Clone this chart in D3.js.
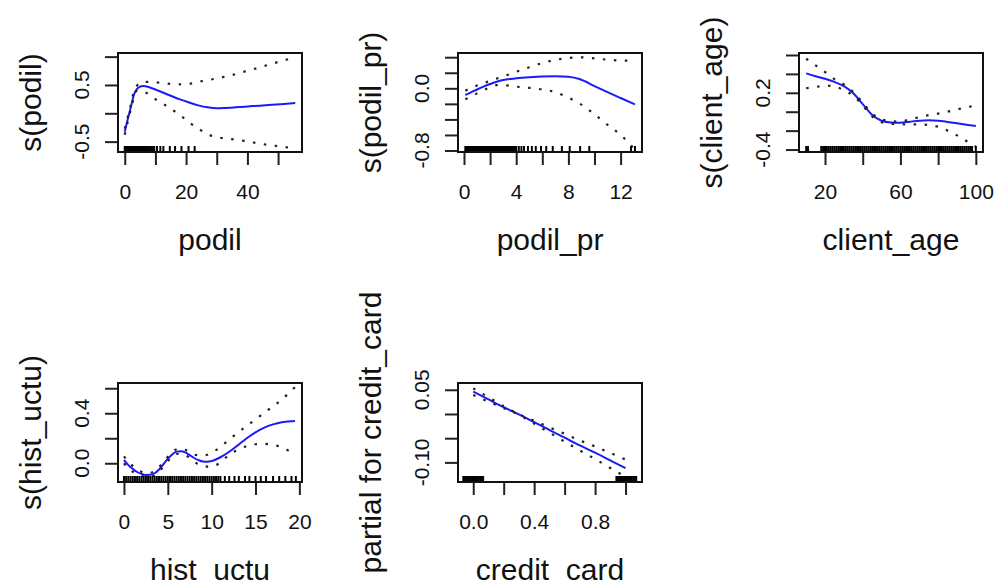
<!DOCTYPE html>
<html>
<head>
<meta charset="utf-8">
<script src="https://cdn.jsdelivr.net/npm/d3@7"></script>
<style>
  body { margin: 0; background: #fff; }
  text { font-family: "Liberation Sans", Arial, Helvetica, sans-serif; fill: #111; }
</style>
</head>
<body>
<div class="chart"></div>
<script>
// ---- podil ----
var podilX     = [0, 1, 2, 3, 4, 5, 6, 8, 10, 12, 15, 18, 21, 24, 27, 30, 33, 36, 40, 44, 48, 52, 55.6];
var podilFit   = [-0.325, -0.10, 0.11, 0.33, 0.43, 0.47, 0.482, 0.46, 0.42, 0.375, 0.31, 0.245, 0.19, 0.14, 0.105, 0.088, 0.095, 0.105, 0.12, 0.135, 0.15, 0.165, 0.182];
var podilUpper = [-0.27, -0.06, 0.15, 0.39, 0.49, 0.54, 0.556, 0.555, 0.547, 0.535, 0.52, 0.512, 0.52, 0.555, 0.585, 0.615, 0.65, 0.69, 0.75, 0.81, 0.875, 0.935, 0.99];
var podilLower = [-0.38, -0.14, 0.07, 0.28, 0.40, 0.40, 0.385, 0.33, 0.25, 0.185, 0.08, -0.03, -0.16, -0.27, -0.37, -0.42, -0.445, -0.465, -0.495, -0.535, -0.565, -0.595, -0.62];
var podilRug   = [0, 0.2, 0.4, 0.6, 0.8, 1, 1.2, 1.4, 1.6, 1.8, 2, 2.2, 2.4, 2.6, 2.8, 3, 3.2, 3.4, 3.6, 3.8, 4, 4.2, 4.4, 4.6, 4.8, 5, 5.2, 5.5, 5.8, 6.1, 6.5, 6.9, 7.3, 7.7, 8.1, 8.6, 9.1, 9.6, 10.5, 11.6, 12.6, 14.7, 16.4, 18.5, 20.8, 22.8];
var podilXTicks = [0, 10, 20, 30, 40, 50];
var podilXLabels = [0, 20, 40];
var podilYTicks = [-0.5, 0, 0.5, 1];
var podilYLabels = [-0.5, 0.5];

// ---- podil_pr ----
var podilPrX     = [0.1, 0.5, 1, 1.5, 2, 2.5, 3, 4, 5, 6, 7, 8, 8.9, 10, 11, 12, 13.1];
var podilPrFit   = [-0.086, -0.055, -0.015, 0.022, 0.055, 0.085, 0.107, 0.128, 0.142, 0.152, 0.155, 0.148, 0.116, 0.028, -0.05, -0.125, -0.206];
var podilPrUpper = [-0.03, 0.0, 0.035, 0.066, 0.097, 0.125, 0.152, 0.213, 0.27, 0.325, 0.365, 0.39, 0.398, 0.385, 0.368, 0.358, 0.355];
var podilPrLower = [-0.14, -0.11, -0.065, -0.022, 0.012, 0.04, 0.04, 0.021, 0.006, -0.015, -0.05, -0.12, -0.2, -0.335, -0.47, -0.6, -0.79];
var podilPrRug   = [0.1, 0.2, 0.3, 0.4, 0.5, 0.6, 0.7, 0.8, 0.9, 1.0, 1.1, 1.2, 1.3, 1.4, 1.5, 1.6, 1.7, 1.8, 1.9, 2.0, 2.1, 2.2, 2.3, 2.4, 2.5, 2.6, 2.7, 2.8, 2.9, 3.0, 3.1, 3.2, 3.3, 3.4, 3.5, 3.6, 3.7, 3.8, 3.9, 4.0, 4.2, 4.4, 4.6, 4.9, 5.2, 5.5, 5.9, 6.3, 6.8, 7.5, 8.1, 8.9, 9.6, 12.8, 13.1];
var podilPrXTicks = [0, 2, 4, 6, 8, 10, 12];
var podilPrXLabels = [0, 4, 8, 12];
var podilPrYTicks = [-0.8, -0.6, -0.4, -0.2, 0, 0.2, 0.4];
var podilPrYLabels = [-0.8, 0];

// ---- client_age ----
var ageX     = [10, 15, 20, 25, 30, 35, 40, 45, 50, 55, 60, 65, 70, 75, 80, 85, 90, 95, 100];
var ageFit   = [0.406, 0.375, 0.348, 0.315, 0.27, 0.195, 0.08, -0.035, -0.095, -0.113, -0.116, -0.105, -0.095, -0.091, -0.095, -0.108, -0.123, -0.137, -0.151];
var ageUpper = [0.56, 0.49, 0.42, 0.345, 0.29, 0.21, 0.095, -0.02, -0.08, -0.1, -0.105, -0.08, -0.058, -0.035, -0.02, 0.0, 0.025, 0.045, 0.07];
var ageLower = [0.248, 0.262, 0.275, 0.27, 0.225, 0.17, 0.065, -0.05, -0.11, -0.128, -0.132, -0.134, -0.134, -0.14, -0.16, -0.2, -0.25, -0.31, -0.37];
var ageRug   = [10, 11, 18, 19, 20, 21, 22, 23, 24, 25, 26, 27, 28, 29, 30, 31, 32, 33, 34, 35, 36, 37, 38, 39, 40, 41, 42, 43, 44, 45, 46, 47, 48, 49, 50, 51, 52, 53, 54, 55, 56, 57, 58, 59, 60, 61, 62, 63, 64, 65, 66, 67, 68, 69, 70, 71, 72, 73, 74, 75, 76, 77, 78, 79, 80, 81, 82, 83, 84, 85, 86, 87, 88, 89, 90, 91, 92, 93, 94, 95, 96, 97, 98, 100];
var ageXTicks = [20, 40, 60, 80, 100];
var ageXLabels = [20, 60, 100];
var ageYTicks = [-0.4, -0.2, 0, 0.2, 0.4, 0.6];
var ageYLabels = [-0.4, 0.2];

// ---- hist_uctu ----
var histX     = [0, 0.5, 1, 1.5, 2, 2.5, 3, 3.5, 4, 4.5, 5, 5.5, 6, 6.5, 7, 7.5, 8, 8.5, 9, 9.5, 10, 11, 12, 13, 14, 15, 16, 17, 18, 19, 19.5];
var histFit   = [0.026, -0.015, -0.045, -0.07, -0.085, -0.093, -0.092, -0.08, -0.05, -0.008, 0.035, 0.07, 0.093, 0.097, 0.087, 0.065, 0.042, 0.025, 0.014, 0.012, 0.018, 0.048, 0.092, 0.145, 0.2, 0.247, 0.285, 0.311, 0.328, 0.336, 0.338];
var histUpper = [0.055, 0.012, -0.022, -0.05, -0.068, -0.078, -0.077, -0.063, -0.032, 0.01, 0.053, 0.088, 0.112, 0.117, 0.108, 0.088, 0.07, 0.064, 0.064, 0.068, 0.085, 0.13, 0.19, 0.245, 0.3, 0.35, 0.405, 0.455, 0.51, 0.575, 0.61];
var histLower = [0.0, -0.042, -0.068, -0.09, -0.102, -0.108, -0.107, -0.097, -0.068, -0.026, 0.017, 0.052, 0.074, 0.077, 0.066, 0.042, 0.014, -0.01, -0.02, -0.027, -0.025, 0.005, 0.07, 0.108, 0.137, 0.152, 0.155, 0.146, 0.128, 0.09, 0.065];
var histRug   = [0, 0.25, 0.5, 0.75, 1, 1.25, 1.5, 1.75, 2, 2.25, 2.5, 2.75, 3, 3.25, 3.5, 3.75, 4, 4.25, 4.5, 4.75, 5, 5.25, 5.5, 5.75, 6, 6.25, 6.5, 6.75, 7, 7.25, 7.5, 7.75, 8, 8.25, 8.5, 8.75, 9, 9.25, 9.5, 9.75, 10, 10.25, 10.5, 10.75, 11, 11.5, 12, 12.6, 13.1, 13.8, 14.3, 15, 15.6, 16.2, 17, 17.7, 18.4, 19.1, 19.6];
var histXTicks = [0, 5, 10, 15, 20];
var histXLabels = [0, 5, 10, 15, 20];
var histYTicks = [0, 0.2, 0.4, 0.6];
var histYLabels = [0, 0.4];

// ---- credit_card (linear term) ----
var cardX     = [0, 0.1, 0.2, 0.3, 0.4, 0.5, 0.6, 0.7, 0.8, 0.9, 1.0];
var cardFit   = [0.046, 0.030, 0.014, -0.001, -0.017, -0.033, -0.049, -0.065, -0.080, -0.096, -0.112];
var cardUpper = [0.053, 0.0345, 0.016, -0.0005, -0.014, -0.0275, -0.041, -0.0545, -0.067, -0.0805, -0.094];
var cardLower = [0.039, 0.0255, 0.012, -0.0015, -0.020, -0.0385, -0.057, -0.0755, -0.093, -0.1115, -0.130];
var cardRug   = [-0.065, -0.055, -0.045, -0.035, -0.025, -0.015, -0.005, 0.005, 0.015, 0.025, 0.035, 0.045, 0.055, 0.065, 0.94, 0.95, 0.96, 0.97, 0.98, 0.99, 1.0, 1.01, 1.02, 1.03, 1.04, 1.05, 1.06, 1.07];
var cardXTicks = [0, 0.2, 0.4, 0.6, 0.8, 1.0];
var cardXLabels = [0, 0.4, 0.8];
var cardYTicks = [-0.10, -0.05, 0, 0.05];
var cardYLabels = [-0.10, 0.05];

var svgWidth = 994;
var svgHeight = 583;

var svg = d3.select(".chart")
  .append("svg")
  .attr("width", svgWidth)
  .attr("height", svgHeight);

// layout: box position, domain at box edges, decimals on labels
var panels = [
  { left: 118, top: 53, xdom: [-2.2, 57.8], ydom: [-0.683, 1.064], xs: podilX, fit: podilFit, up: podilUpper, lo: podilLower, rug: podilRug,
    xt: podilXTicks, xl: podilXLabels, yt: podilYTicks, yl: podilYLabels, xd: 0, yd: 1, xlab: "podil", ylab: "s(podil)" },
  { left: 458, top: 53, xdom: [-0.46, 13.64], ydom: [-0.819, 0.454], xs: podilPrX, fit: podilPrFit, up: podilPrUpper, lo: podilPrLower, rug: podilPrRug,
    xt: podilPrXTicks, xl: podilPrXLabels, yt: podilPrYTicks, yl: podilPrYLabels, xd: 0, yd: 1, xlab: "podil_pr", ylab: "s(podil_pr)" },
  { left: 799, top: 53, xdom: [6.2, 103.8], ydom: [-0.426, 0.621], xs: ageX, fit: ageFit, up: ageUpper, lo: ageLower, rug: ageRug,
    xt: ageXTicks, xl: ageXLabels, yt: ageYTicks, yl: ageYLabels, xd: 0, yd: 1, xlab: "client_age", ylab: "s(client_age)" },
  { left: 118, top: 383, xdom: [-0.68, 20.3], ydom: [-0.15, 0.642], xs: histX, fit: histFit, up: histUpper, lo: histLower, rug: histRug,
    xt: histXTicks, xl: histXLabels, yt: histYTicks, yl: histYLabels, xd: 0, yd: 1, xlab: "hist_uctu", ylab: "s(hist_uctu)" },
  { left: 458, top: 383, xdom: [-0.1, 1.108], ydom: [-0.1405, 0.064], xs: cardX, fit: cardFit, up: cardUpper, lo: cardLower, rug: cardRug,
    xt: cardXTicks, xl: cardXLabels, yt: cardYTicks, yl: cardYLabels, xd: 1, yd: 2, xlab: "credit_card", ylab: "partial for credit_card" }
];

var boxW = 184;
var boxH = 99;

panels.forEach(function(p) {
  var g = svg.append("g").attr("transform", `translate(${p.left}, ${p.top})`);

  var x = d3.scaleLinear().domain(p.xdom).range([0, boxW]);
  var y = d3.scaleLinear().domain(p.ydom).range([boxH, 0]);

  // axes (ticks only on y, labels drawn rotated below)
  var xaxis = d3.axisBottom(x)
    .tickValues(p.xt)
    .tickSize(13)
    .tickPadding(19)
    .tickFormat(d => p.xl.some(v => Math.abs(v - d) < 1e-9) ? d.toFixed(p.xd) : "");
  var yaxis = d3.axisLeft(y)
    .tickValues(p.yt)
    .tickSize(13)
    .tickFormat("");

  var gx = g.append("g").attr("transform", `translate(0, ${boxH})`).call(xaxis);
  var gy = g.append("g").call(yaxis);
  [gx, gy].forEach(function(a) {
    a.select(".domain").remove();
    a.selectAll("line").attr("stroke", "#222").attr("stroke-width", 2);
    a.selectAll("text").attr("font-size", 21).attr("fill", "#222")
      .style("font-family", "'Liberation Sans', Arial, sans-serif");
  });

  g.selectAll(".ylab")
    .data(p.yl)
    .enter()
    .append("text")
    .attr("class", "ylab")
    .attr("transform", d => `translate(-29, ${y(d)}) rotate(-90)`)
    .attr("text-anchor", "middle")
    .attr("font-size", 21)
    .attr("fill", "#222")
    .text(d => d.toFixed(p.yd));

  var pts = p.xs.map((v, i) => ({ x: v, fit: p.fit[i], up: p.up[i], lo: p.lo[i] }));

  var fitLine = d3.line().x(d => x(d.x)).y(d => y(d.fit)).curve(d3.curveMonotoneX);
  var upLine = d3.line().x(d => x(d.x)).y(d => y(d.up)).curve(d3.curveMonotoneX);
  var loLine = d3.line().x(d => x(d.x)).y(d => y(d.lo)).curve(d3.curveMonotoneX);

  g.append("path").datum(pts).attr("d", fitLine)
    .attr("fill", "none").attr("stroke", "#1a1aff").attr("stroke-width", 2);

  [upLine, loLine].forEach(function(l) {
    g.append("path").datum(pts).attr("d", l)
      .attr("fill", "none").attr("stroke", "#222").attr("stroke-width", 2.2)
      .attr("stroke-dasharray", "2.5,8.5");
  });

  // rug
  g.selectAll(".rug")
    .data(p.rug)
    .enter()
    .append("line")
    .attr("x1", d => x(d))
    .attr("x2", d => x(d))
    .attr("y1", boxH)
    .attr("y2", boxH - 6)
    .attr("stroke", "#000")
    .attr("stroke-width", 2);

  // box
  g.append("rect")
    .attr("width", boxW)
    .attr("height", boxH)
    .attr("fill", "none")
    .attr("stroke", "#111")
    .attr("stroke-width", 2);

  // axis titles
  g.append("text")
    .attr("x", boxW / 2)
    .attr("y", boxH + 98)
    .attr("text-anchor", "middle")
    .attr("font-size", 30)
    .text(p.xlab);

  g.append("text")
    .attr("transform", `translate(-88, ${boxH / 2}) rotate(-90)`)
    .attr("text-anchor", "middle")
    .attr("dominant-baseline", "central")
    .attr("font-size", 30)
    .text(p.ylab);
});
</script>
</body>
</html>
